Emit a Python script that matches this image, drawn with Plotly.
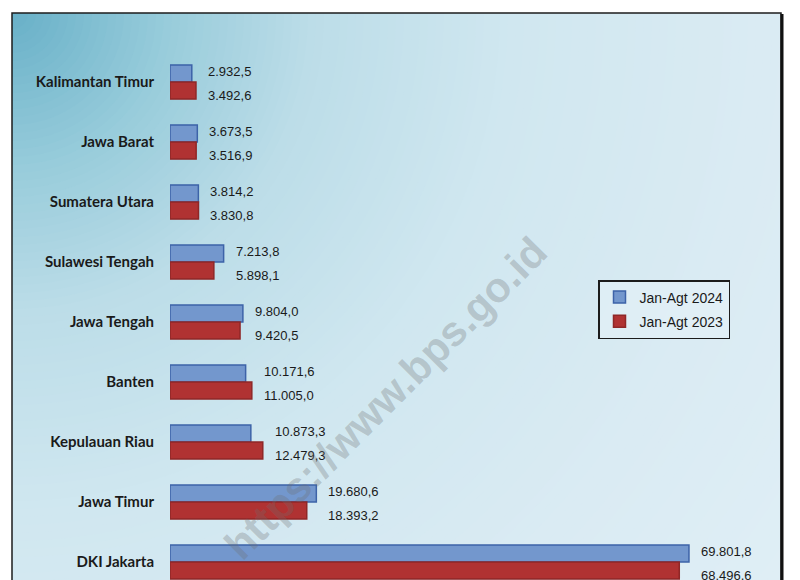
import plotly.graph_objects as go

categories = ["Kalimantan Timur", "Jawa Barat", "Sumatera Utara", "Sulawesi Tengah",
              "Jawa Tengah", "Banten", "Kepulauan Riau", "Jawa Timur", "DKI Jakarta"]
values_2024 = [2932.5, 3673.5, 3814.2, 7213.8, 9804.0, 10171.6, 10873.3, 19680.6, 69801.8]
values_2023 = [3492.6, 3516.9, 3830.8, 5898.1, 9420.5, 11005.0, 12479.3, 18393.2, 68496.6]
series_names = ["Jan-Agt 2024", "Jan-Agt 2023"]

OFF = 8                      # page body margin
W, H = 800 - OFF, 580 - OFF
PL, PR, PT = 170, 780, 13    # plot area in screen pixels
ML, MT = PL - OFF, PT - OFF
MR, MB = W - (PR - OFF), 0
PW, PH = PR - PL, H - MT - MB


def px(x):
    return (x - PL) / PW


def py(y):
    return 1 - (y - PT) / PH


BLUE, BLUE_LINE = "#7397cd", "#3d63a8"
RED, RED_LINE = "#b03232", "#8f2727"
NUM_FONT = "Liberation Sans, Arial, sans-serif"

fig = go.Figure()
fig.add_trace(go.Bar(y=categories, x=values_2024, orientation="h", name=series_names[0],
                     marker=dict(color=BLUE, line=dict(color=BLUE_LINE, width=1.5)),
                     legendgroup="a", hoverinfo="skip"))
fig.add_trace(go.Bar(y=categories, x=values_2023, orientation="h", name=series_names[1],
                     marker=dict(color=RED, line=dict(color=RED_LINE, width=1.5)),
                     legendgroup="b", hoverinfo="skip"))


def fmt(v):
    s = f"{v:,.1f}"
    return s.replace(",", "X").replace(".", ",").replace("X", ".")


annotations = []
for c, v24, v23 in zip(categories, values_2024, values_2023):
    xm = max(v24, v23)
    for v, ys in ((v24, 11), (v23, -13)):
        annotations.append(dict(x=xm, y=c, xref="x", yref="y", text=fmt(v), showarrow=False,
                                xanchor="left", yanchor="middle", xshift=10, yshift=ys,
                                font=dict(family=NUM_FONT, size=13, color="#1a1a1a")))
# watermark
annotations.append(dict(x=px(385), y=py(398), xref="paper", yref="paper",
                        xanchor="center", yanchor="middle",
                        text="<b>https://www.bps.go.id</b>", showarrow=False, textangle=-45,
                        font=dict(family="Liberation Sans, Arial, sans-serif", size=42,
                                  color="rgba(110,110,110,0.30)")))

# background gradient (radial from top-left corner of frame)
shapes = []
cx, cy = 12, 13
stops = [(0, (104, 176, 199)), (150, (150, 203, 218)), (300, (188, 221, 232)),
         (500, (208, 231, 240)), (750, (218, 235, 243)), (1000, (224, 239, 246))]


def col(d):
    for (d0, c0), (d1, c1) in zip(stops[:-1], stops[1:]):
        if d <= d1:
            t = (d - d0) / (d1 - d0)
            return "rgb(%d,%d,%d)" % tuple(round(a + (b - a) * t) for a, b in zip(c0, c1))
    return "rgb(%d,%d,%d)" % stops[-1][1]


N = 125
Rmax = 1000
for i in range(N, 0, -1):
    r = Rmax * i / N
    shapes.append(dict(type="circle", xref="paper", yref="paper", layer="below",
                       x0=px(cx - r), x1=px(cx + r), y0=py(cy + r), y1=py(cy - r),
                       fillcolor=col(r - Rmax / N / 2), line=dict(width=0)))
# white cover outside frame
for (x0, y0, x1, y1) in [(-1200, -1200, 2000, 13), (-1200, -1200, 12, 2000),
                         (781, -1200, 2000, 2000)]:
    shapes.append(dict(type="rect", xref="paper", yref="paper", layer="below",
                       x0=px(x0), x1=px(x1), y0=py(y1), y1=py(y0),
                       fillcolor="white", line=dict(width=0)))
# frame
shapes.append(dict(type="rect", xref="paper", yref="paper", layer="below",
                   x0=px(12), x1=px(781), y0=py(620), y1=py(13),
                   fillcolor="rgba(0,0,0,0)", line=dict(color="#1c1c1c", width=1.5)))
shapes.append(dict(type="line", xref="paper", yref="paper", layer="below",
                   x0=px(782), x1=px(782), y0=py(620), y1=py(14),
                   line=dict(color="#111111", width=3)))

fig.update_layout(
    width=W, height=H,
    margin=dict(l=ML, r=MR, t=MT, b=MB),
    paper_bgcolor="white",
    plot_bgcolor="rgba(0,0,0,0)",
    barmode="group", bargap=0.43, bargroupgap=0,
    showlegend=True,
    legend=dict(x=px(598), y=py(280), xanchor="left", yanchor="top",
                bgcolor="rgba(235,244,249,0.4)", bordercolor="#1c1c1c", borderwidth=1.5,
                traceorder="grouped", tracegroupgap=3,
                font=dict(family=NUM_FONT, size=14, color="#1a1a1a")),
    xaxis=dict(range=[0, 82044], showticklabels=False, showgrid=False, zeroline=False,
               showline=False, fixedrange=True),
    yaxis=dict(range=[8.3, -1.15], showgrid=False, zeroline=False, showline=False,
               ticks="outside", ticklen=12, tickcolor="rgba(0,0,0,0)",
               tickfont=dict(family="Lato, sans-serif", size=15, color="#1a1a1a",
                             weight="bold")),
    shapes=shapes,
    annotations=annotations,
)

fig.write_html("out.html")
